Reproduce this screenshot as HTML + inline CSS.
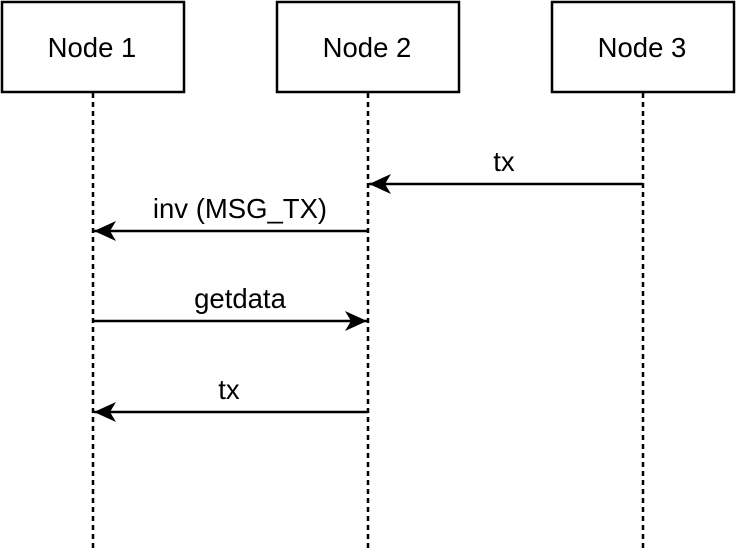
<!DOCTYPE html>
<html><head><style>body{margin:0;background:#fff}svg{display:block}text{font-family:"Liberation Sans",Arial,sans-serif;font-size:27.5px}</style></head><body>
<svg width="736" height="552" xmlns="http://www.w3.org/2000/svg">
<defs><marker id="a" markerWidth="24" markerHeight="22" refX="22" refY="11" orient="auto" markerUnits="userSpaceOnUse"><path d="M0,1 L22,11 L0,21 L6,11 Z" fill="#000"/></marker></defs>
<g fill="#fff" stroke="#000" stroke-width="2.5">
<rect x="2" y="2" width="182" height="90"/>
<rect x="277" y="2" width="182" height="90"/>
<rect x="552" y="2" width="182" height="90"/>
</g>
<g fill="#000" text-anchor="middle">
<text x="92" y="57">Node 1</text>
<text x="367" y="57">Node 2</text>
<text x="642" y="57">Node 3</text>
<text x="504" y="171">tx</text>
<text x="240" y="218">inv (MSG_TX)</text>
<text x="240" y="308">getdata</text>
<text x="229" y="399">tx</text>
</g>
<g stroke="#000" stroke-width="2.5" stroke-dasharray="5 4">
<line x1="93" y1="93" x2="93" y2="552"/>
<line x1="368" y1="93" x2="368" y2="552"/>
<line x1="643" y1="93" x2="643" y2="552"/>
</g>
<g stroke="#000" stroke-width="2.5" marker-end="url(#a)">
<line x1="643" y1="184" x2="369" y2="184"/>
<line x1="368" y1="231" x2="94" y2="231"/>
<line x1="93" y1="321" x2="367" y2="321"/>
<line x1="368" y1="412" x2="94" y2="412"/>
</g>
</svg>
</body></html>
